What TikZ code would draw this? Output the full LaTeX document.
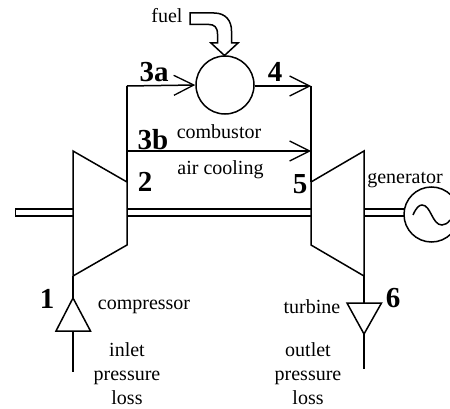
\documentclass[tikz,border=0pt]{standalone}
\usepackage{fontspec}
\setmainfont{Liberation Serif}
\usetikzlibrary{arrows.meta,calc,positioning}
\newcommand{\labelfont}{\fontsize{20}{24}\selectfont}
\newcommand{\statefont}{\fontsize{29}{30}\selectfont\bfseries}
\tikzset{
  every node/.style={font=\labelfont,inner sep=0pt},
  state/.style={font=\statefont},
  pipe/.style={line width=1.5pt,draw=black},
  flow/.style={-{Straight Barb[length=20pt,width=20pt,line width=1.3pt]},line width=1.5pt,draw=black},
  wheel/.style={circle,draw=black,line width=1.5pt,minimum size=#1},
  wheel/.default=58pt,
}

\begin{document}
\begin{tikzpicture}[x=1pt,y=-1pt]
  \useasboundingbox (0,0) rectangle (450,409);
  % ---------- compressor ----------
  \coordinate (cLT) at (73,151);
  \coordinate (cLB) at (73,276);
  \coordinate (cRT) at (127,182);
  \coordinate (cRB) at (127,245);
  \draw[pipe,line join=miter] (cLT) -- (cRT) -- (cRB) -- (cLB) -- cycle;
  % ---------- turbine ----------
  \coordinate (tRT) at (364,151);
  \coordinate (tRB) at (364,276);
  \coordinate (tLT) at (311,182);
  \coordinate (tLB) at (311,245);
  \draw[pipe,line join=miter] (tRT) -- (tLT) -- (tLB) -- (tRB) -- cycle;

  % ---------- combustor and generator ----------
  \node[wheel] (comb) at (225,85) {};
  \node[wheel=55pt] (gen) at (431.5,214.5) {};
  \draw[pipe] (413,215) .. controls (416,208) and (419,205) .. (422,205)
        .. controls (431,205) and (432,225) .. (442,225)
        .. controls (445,225) and (448,223) .. (450,220);

  % ---------- air paths ----------
  \coordinate (n3a) at (127,86);
  \coordinate (n4) at (311,86);
  \coordinate (n3b) at (127,151);
  \coordinate (n5) at (311,151);
  \draw[pipe] (cRT) -- (n3a);
  \draw[flow] (n3a) -- (comb.west);
  \draw[flow] (comb.east |- n4) -- (n4);
  \draw[pipe] (n4) -- (tLT);
  \draw[flow] (n3b) -- (n5);

  % ---------- shaft ----------
  \coordinate (sL) at (15.5,209);
  \coordinate (sLb) at (15.5,216);
  \draw[pipe] (73,209) -- (sL) -- (sLb) -- (73,216);
  \draw[pipe] (127,209) -- (311,209);
  \draw[pipe] (127,216) -- (311,216);
  \draw[pipe] (364,209) -- (404.5,209);
  \draw[pipe] (364,216) -- (404,216);

  % ---------- pressure losses ----------
  \coordinate (inA) at (73,298);
  \coordinate (inL) at (56,331);
  \coordinate (inR) at (90.5,331);
  \coordinate (inB) at (73,331);
  \coordinate (inE) at (73,372);
  \draw[pipe] (cLB) -- (inA);
  \draw[pipe,line join=miter] (inA) -- (inL) -- (inR) -- cycle;
  \draw[pipe] (inB) -- (inE);
  \coordinate (outA) at (364,334);
  \coordinate (outL) at (347,303);
  \coordinate (outR) at (381.5,303);
  \coordinate (outB) at (364,303);
  \coordinate (outE) at (364,369);
  \draw[pipe] (tRB) -- (outB);
  \draw[pipe,line join=miter] (outA) -- (outL) -- (outR) -- cycle;
  \draw[pipe] (outA) -- (outE);

  % ---------- fuel ----------
  \draw[pipe,line join=miter] (190,13) -- (214,13) .. controls (226,13) and (231.5,21) .. (231.5,31)
        -- (231.5,43) -- (238,43) -- (224.5,55.5) -- (211,43) -- (217.5,43) -- (217.5,34)
        .. controls (217.5,27) and (214,24.5) .. (209,24.5) -- (190,24.5) -- cycle;

  % ---------- labels ----------
  \node (fuel) at (167,16) {fuel};
  \node (combustor) at (219,132) {combustor};
  \node (cooling) at (220.5,170) {air cooling};
  \node (compressor) at (144,307) {compressor};
  \node (turbine) at (312,307) {turbine};
  \node (generator) at (405,180) {generator};
  \node[align=center] (inlet) at (127,374) {inlet\\pressure\\loss};
  \node[align=center] (outlet) at (308,374) {outlet\\pressure\\loss};
  \node[state] (s1) at (47,299) {1};
  \node[state] (s2) at (145,182) {2};
  \node[state] (s3a) at (154,72) {3a};
  \node[state] (s3b) at (153,140) {3b};
  \node[state] (s4) at (275,72) {4};
  \node[state] (s5) at (300,184) {5};
  \node[state] (s6) at (393,298) {6};
\end{tikzpicture}
\end{document}
